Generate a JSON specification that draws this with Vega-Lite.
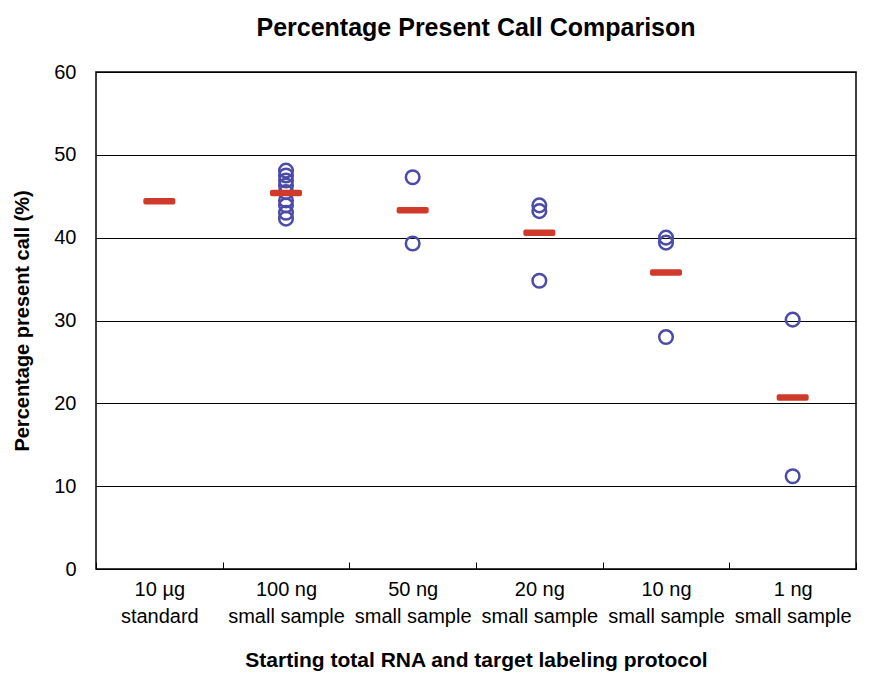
{
  "$schema": "https://vega.github.io/schema/vega-lite/v6.json",
  "width": 760,
  "height": 497,
  "autosize": {"type": "none"},
  "padding": {"left": 96, "top": 72, "right": 31, "bottom": 117},
  "background": "white",
  "title": {
    "text": "Percentage Present Call Comparison",
    "font": "Liberation Sans",
    "fontSize": 25,
    "fontWeight": "bold",
    "color": "black",
    "anchor": "middle",
    "offset": 21
  },
  "config": {
    "view": {"stroke": "black", "strokeWidth": 1.5},
    "font": "Liberation Sans"
  },
  "data": {
    "values": [
      {"protocol": "10 µg|standard", "kind": "mean", "value": 44.4},
      {"protocol": "100 ng|small sample", "kind": "mean", "value": 45.4},
      {"protocol": "100 ng|small sample", "kind": "sample", "value": 48.1},
      {"protocol": "100 ng|small sample", "kind": "sample", "value": 47.5},
      {"protocol": "100 ng|small sample", "kind": "sample", "value": 46.9},
      {"protocol": "100 ng|small sample", "kind": "sample", "value": 46.3},
      {"protocol": "100 ng|small sample", "kind": "sample", "value": 45.5},
      {"protocol": "100 ng|small sample", "kind": "sample", "value": 44.5},
      {"protocol": "100 ng|small sample", "kind": "sample", "value": 43.9},
      {"protocol": "100 ng|small sample", "kind": "sample", "value": 43.0},
      {"protocol": "100 ng|small sample", "kind": "sample", "value": 42.3},
      {"protocol": "50 ng|small sample", "kind": "mean", "value": 43.3},
      {"protocol": "50 ng|small sample", "kind": "sample", "value": 47.3},
      {"protocol": "50 ng|small sample", "kind": "sample", "value": 39.3},
      {"protocol": "20 ng|small sample", "kind": "mean", "value": 40.6},
      {"protocol": "20 ng|small sample", "kind": "sample", "value": 43.9},
      {"protocol": "20 ng|small sample", "kind": "sample", "value": 43.2},
      {"protocol": "20 ng|small sample", "kind": "sample", "value": 34.8},
      {"protocol": "10 ng|small sample", "kind": "mean", "value": 35.8},
      {"protocol": "10 ng|small sample", "kind": "sample", "value": 40.0},
      {"protocol": "10 ng|small sample", "kind": "sample", "value": 39.4},
      {"protocol": "10 ng|small sample", "kind": "sample", "value": 28.0},
      {"protocol": "1 ng|small sample", "kind": "mean", "value": 20.7},
      {"protocol": "1 ng|small sample", "kind": "sample", "value": 30.1},
      {"protocol": "1 ng|small sample", "kind": "sample", "value": 11.2}
    ]
  },
  "encoding": {
    "x": {
      "field": "protocol",
      "type": "nominal",
      "sort": ["10 µg|standard", "100 ng|small sample", "50 ng|small sample", "20 ng|small sample", "10 ng|small sample", "1 ng|small sample"],
      "scale": {"paddingInner": 0, "paddingOuter": 0},
      "axis": {
        "title": "Starting total RNA and target labeling protocol",
        "titleFontSize": 21,
        "titleFontWeight": "bold",
        "titleColor": "black",
        "titlePadding": 23,
        "labelExpr": "split(datum.label, '|')",
        "labelAngle": 0,
        "labelFontSize": 20,
        "labelColor": "black",
        "labelLineHeight": 27,
        "labelPadding": 17,
        "labelBaseline": "top",
        "domain": false,
        "ticks": true,
        "tickBand": "extent",
        "tickSize": -7,
        "tickColor": "black",
        "tickWidth": 1,
        "grid": false
      }
    },
    "y": {
      "field": "value",
      "type": "quantitative",
      "scale": {"domain": [0, 60], "nice": false, "zero": true},
      "axis": {
        "title": "Percentage present call (%)",
        "titleFontSize": 20,
        "titleFontWeight": "bold",
        "titleColor": "black",
        "titlePadding": 21,
        "values": [0, 10, 20, 30, 40, 50, 60],
        "labelFontSize": 20,
        "labelColor": "black",
        "labelPadding": 20,
        "ticks": false,
        "domain": false,
        "grid": true,
        "gridColor": "black",
        "gridWidth": 1,
        "gridOpacity": 1
      }
    }
  },
  "layer": [
    {
      "transform": [{"filter": "datum.kind === 'sample'"}],
      "mark": {"type": "point", "shape": "circle", "filled": false, "stroke": "#4B4BA8", "strokeWidth": 2.5, "size": 185, "opacity": 1}
    },
    {
      "transform": [{"filter": "datum.kind === 'mean'"}],
      "mark": {"type": "tick", "orient": "horizontal", "color": "#D03A2A", "size": 32, "thickness": 6.5, "cornerRadius": 2, "opacity": 1}
    }
  ]
}
